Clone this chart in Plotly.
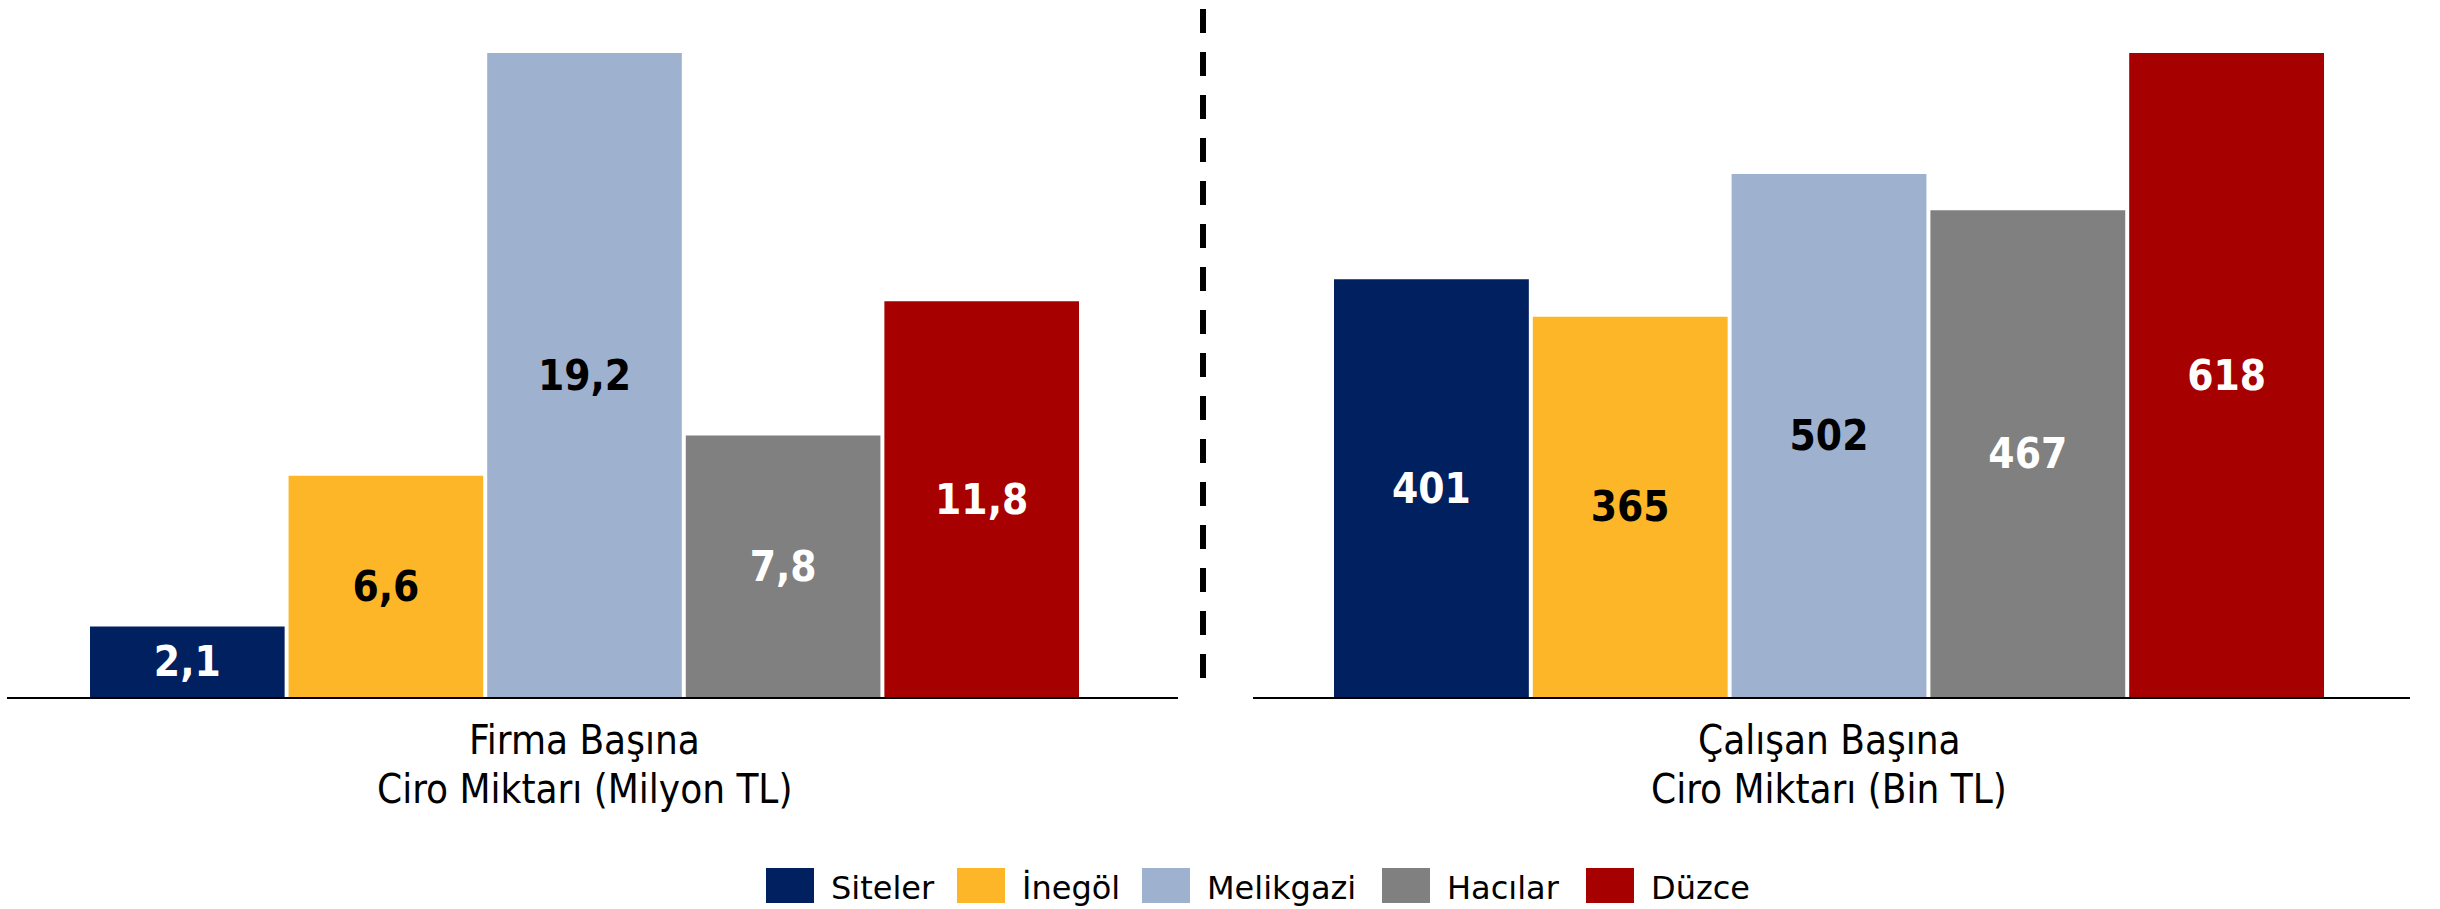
import plotly.graph_objects as go

# ---- data ----
series = ["Siteler", "İnegöl", "Melikgazi", "Hacılar", "Düzce"]
colors = ["#002060", "#FDB627", "#9EB2CF", "#808080", "#A60000"]
label_colors = ["white", "black", "black", "white", "white"]
panel1_lines = ["Firma Başına", "Ciro Miktarı (Milyon TL)"]
panel2_lines = ["Çalışan Başına", "Ciro Miktarı (Bin TL)"]
firma_values = [2.1, 6.6, 19.2, 7.8, 11.8]        # Milyon TL
calisan_values = [401, 365, 502, 467, 618]        # Bin TL

W, H = 2440, 909
TOP, BASE = 53, 697
PLOT_H = BASE - TOP

COND = "DejaVu Sans Condensed, Liberation Sans Narrow, DejaVu Sans, sans-serif"


def px(x):
    return x / W


def py(y):
    return (BASE - y) / PLOT_H


cat1 = " ".join(panel1_lines)
cat2 = " ".join(panel2_lines)

fig = go.Figure()
for i, name in enumerate(series):
    fig.add_trace(go.Bar(
        x=[cat1], y=[firma_values[i]], name=name, xaxis="x", yaxis="y",
        marker=dict(color=colors[i], line=dict(width=0)),
        texttemplate="%{y:.1f}", textposition="inside", insidetextanchor="middle",
        textangle=0, constraintext="none",
        textfont=dict(family=COND, size=42, color=label_colors[i], weight="bold"),
        showlegend=False, hoverinfo="skip",
    ))
    fig.add_trace(go.Bar(
        x=[cat2], y=[calisan_values[i]], name=name, xaxis="x2", yaxis="y2",
        marker=dict(color=colors[i], line=dict(width=0)),
        texttemplate="%{y:.0f}", textposition="inside", insidetextanchor="middle",
        textangle=0, constraintext="none",
        textfont=dict(family=COND, size=42, color=label_colors[i], weight="bold"),
        showlegend=False, hoverinfo="skip",
    ))

axis_common = dict(showline=True, linecolor="#000000", linewidth=2, showgrid=False,
                   zeroline=False, showticklabels=False, ticks="", type="category")
yaxis_common = dict(visible=False, showgrid=False, zeroline=False)

annotations = []
for xref, lines in (("x", panel1_lines), ("x2", panel2_lines)):
    for j, line in enumerate(lines):
        annotations.append(dict(
            x=0, xref=xref, y=0, yref="paper", yanchor="middle", xanchor="center",
            yshift=-(43 + 49 * j), text=line, showarrow=False,
            font=dict(family=COND, size=40, color="#000000"),
        ))

# legend (manual, large swatches)
shapes = []
leg_x = [766, 957, 1142, 1382, 1586]
for i, name in enumerate(series):
    x0 = leg_x[i]
    shapes.append(dict(type="rect", xref="paper", yref="paper",
                       x0=px(x0), x1=px(x0 + 48), y0=py(903), y1=py(868),
                       fillcolor=colors[i], line=dict(width=0)))
    annotations.append(dict(
        x=px(x0 + 63), xref="paper", y=py(888), yref="paper",
        xanchor="left", yanchor="middle", text=name, showarrow=False,
        font=dict(family="DejaVu Sans, sans-serif", size=32, color="#000000"),
    ))

# dashed divider
shapes.append(dict(type="line", xref="paper", yref="paper",
                   x0=px(1203), x1=px(1203), y0=py(9), y1=py(697),
                   line=dict(color="#000000", width=6, dash="24px,19px")))

fig.update_layout(
    width=W, height=H,
    margin=dict(l=0, r=0, t=TOP, b=H - BASE),
    paper_bgcolor="white", plot_bgcolor="white",
    barmode="group", bargap=0, bargroupgap=0.02,
    separators=",.",
    xaxis=dict(domain=[px(7), px(1178)], range=[-0.5816, 0.5977], anchor="y", **axis_common),
    xaxis2=dict(domain=[px(1253), px(2410)], range=[-0.5795, 0.5845], anchor="y2", **axis_common),
    yaxis=dict(range=[0, 19.2], anchor="x", **yaxis_common),
    yaxis2=dict(range=[0, 618], anchor="x2", **yaxis_common),
    annotations=annotations,
    shapes=shapes,
    showlegend=False,
)

fig.write_html(
    "out.html",
    config={"displayModeBar": False},
    post_script="document.body.style.margin='0px';document.body.style.overflow='hidden';",
)
